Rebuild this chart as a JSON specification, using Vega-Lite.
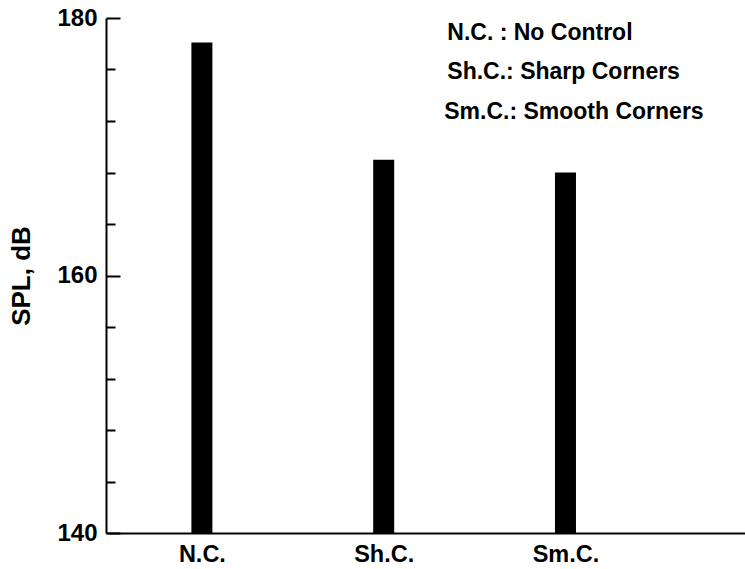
{
  "$schema": "https://vega.github.io/schema/vega-lite/v6.json",
  "width": 639,
  "height": 515,
  "autosize": {"type": "none"},
  "padding": {"left": 106, "top": 18, "right": 0, "bottom": 36},
  "background": "white",
  "config": {
    "view": {"stroke": null},
    "font": "Liberation Sans",
    "axis": {"grid": false, "domainColor": "black", "domainWidth": 2, "labelFont": "Liberation Sans", "labelFontWeight": "bold", "labelColor": "black", "titleFont": "Liberation Sans", "titleFontWeight": "bold", "titleColor": "black"}
  },
  "layer": [
    {
      "data": {"values": [
        {"case": "N.C.", "pos": 1, "spl": 178.1},
        {"case": "Sh.C.", "pos": 2, "spl": 169.0},
        {"case": "Sm.C.", "pos": 3, "spl": 168.0}
      ]},
      "mark": {"type": "bar", "color": "black", "size": 21, "clip": true},
      "encoding": {
        "x": {"field": "pos", "type": "quantitative", "scale": {"domain": [0.5, 3.96], "nice": false, "zero": false},
          "axis": {"title": null, "values": [1, 2, 3], "ticks": false, "labelFontSize": 23.5, "labelPadding": 9,
            "labelExpr": "datum.value == 1 ? 'N.C.' : datum.value == 2 ? 'Sh.C.' : 'Sm.C.'"}},
        "y": {"field": "spl", "type": "quantitative", "scale": {"domain": [140, 180], "nice": false, "zero": false},
          "axis": {"title": "SPL, dB", "titleFontSize": 26, "titlePadding": 22,
            "values": [140, 144, 148, 152, 156, 160, 164, 168, 172, 176, 180],
            "labelExpr": "datum.value % 20 === 0 ? datum.label : ''",
            "labelFontSize": 24, "labelPadding": 23,
            "tickColor": "black", "tickWidth": 2,
            "tickSize": {"condition": {"test": "datum.value % 20 === 0", "value": -14}, "value": -9}}},
        "y2": {"datum": 140}
      }
    },
    {
      "data": {"values": [
        {"label": "N.C. : No Control", "x": 2.35, "y": 178.33},
        {"label": "Sh.C.: Sharp Corners", "x": 2.35, "y": 175.26},
        {"label": "Sm.C.: Smooth Corners", "x": 2.333, "y": 172.19}
      ]},
      "mark": {"type": "text", "align": "left", "baseline": "alphabetic", "fontSize": 23, "fontWeight": "bold", "font": "Liberation Sans", "color": "black"},
      "encoding": {
        "x": {"field": "x", "type": "quantitative"},
        "y": {"field": "y", "type": "quantitative"},
        "text": {"field": "label"}
      }
    }
  ]
}
